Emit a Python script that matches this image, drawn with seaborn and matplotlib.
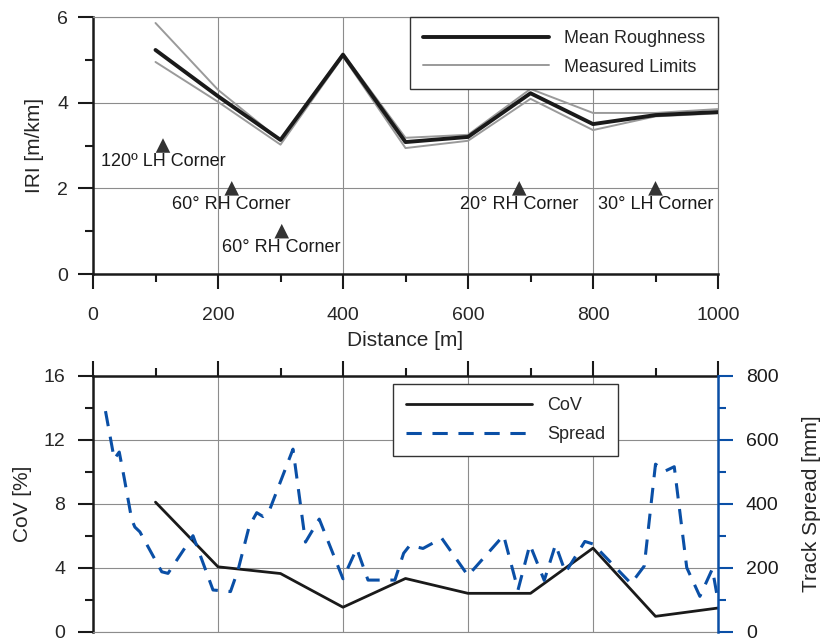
import matplotlib
matplotlib.use("Agg")
import matplotlib.pyplot as plt
from matplotlib.ticker import MultipleLocator
from matplotlib.lines import Line2D
import seaborn as sns
import pandas as pd

# ---- roughness profile (IRI, m/km) along the route ----
distance = [100, 200, 300, 400, 500, 600, 700, 800, 900, 1000]
mean_iri = [5.23, 4.15, 3.13, 5.12, 3.08, 3.20, 4.22, 3.50, 3.71, 3.78]
upper_iri = [5.86, 4.30, 3.12, 5.15, 3.18, 3.25, 4.32, 3.76, 3.76, 3.85]
lower_iri = [4.95, 4.02, 3.02, 5.08, 2.94, 3.11, 4.09, 3.36, 3.68, 3.75]

# ---- corner markers ----
corner_x = [112, 222, 302, 682, 900]
corner_y = [3, 2, 1, 2, 2]
corner_labels = ["120º LH Corner", "60° RH Corner", "60° RH Corner",
                 "20° RH Corner", "30° LH Corner"]

# ---- coefficient of variation (%) ----
cov_pct = [8.1, 4.05, 3.63, 1.52, 3.32, 2.39, 2.39, 5.22, 0.95, 1.47]

# ---- lateral track spread (mm) ----
spread_x = [20, 34, 42, 50, 62, 67, 75, 110, 120, 160, 192, 220, 232, 250,
            262, 272, 282, 320, 340, 362, 400, 422, 440, 483, 497, 507, 528,
            558, 600, 657, 680, 699, 722, 740, 756, 787, 800, 861, 882, 900,
            915, 930, 950, 971, 991, 1000]
spread_mm = [690, 540, 562, 480, 350, 327, 312, 187, 182, 300, 130, 125, 192,
             330, 372, 360, 378, 571, 280, 352, 165, 260, 161, 161, 245, 270,
             260, 292, 175, 301, 130, 272, 160, 272, 185, 282, 274, 150, 205,
             524, 502, 516, 200, 110, 196, 96]

BLUE = "#0a4fa6"
GRID = "#8c8c8c"

sns.set_theme(style="white")
plt.rcParams["font.family"] = ["Liberation Sans", "DejaVu Sans"]
plt.rcParams["axes.unicode_minus"] = False

fig = plt.figure(figsize=(8.25, 6.41), dpi=100)
ax_top = fig.add_axes([93 / 825, 1 - 274 / 641, 625 / 825, 257 / 641])
ax_bot = fig.add_axes([93 / 825, 1 - 631.5 / 641, 625 / 825, 255.5 / 641])

# ================= upper panel =================
iri_df = pd.DataFrame({"Distance": distance, "Mean": mean_iri,
                       "Upper": upper_iri, "Lower": lower_iri})
sns.lineplot(data=iri_df, x="Distance", y="Upper", ax=ax_top, color="#9a9a9a",
             lw=1.4, estimator=None, zorder=3)
sns.lineplot(data=iri_df, x="Distance", y="Lower", ax=ax_top, color="#9a9a9a",
             lw=1.4, estimator=None, zorder=3)
sns.lineplot(data=iri_df, x="Distance", y="Mean", ax=ax_top, color="#1a1a1a",
             lw=2.8, estimator=None, zorder=4)

corner_df = pd.DataFrame({"x": corner_x, "y": corner_y})
sns.scatterplot(data=corner_df, x="x", y="y", ax=ax_top, marker="^", s=110,
                color="#333333", edgecolor="none", zorder=5)
for cx, cy, lab in zip(corner_x, corner_y, corner_labels):
    ax_top.annotate(lab, (cx, cy), xytext=(0, -11.5), textcoords="offset points",
                    ha="center", va="center", fontsize=13, color="#1a1a1a",
                    zorder=6)

ax_top.set_xlim(0, 1000)
ax_top.set_ylim(0, 6)
ax_top.xaxis.set_major_locator(MultipleLocator(200))
ax_top.xaxis.set_minor_locator(MultipleLocator(100))
ax_top.yaxis.set_major_locator(MultipleLocator(2))
ax_top.yaxis.set_minor_locator(MultipleLocator(1))
ax_top.grid(True, which="major", color=GRID, lw=0.8, zorder=0)
ax_top.set_axisbelow(True)
ax_top.set_xlabel("Distance [m]", fontsize=15, labelpad=5)
ax_top.set_ylabel("IRI [m/km]", fontsize=15, labelpad=9)
ax_top.tick_params(axis="both", which="major", direction="out", length=11,
                   width=1.5, color="#1a1a1a", labelsize=14,
                   bottom=True, left=True, top=False, right=False)
ax_top.tick_params(axis="both", which="minor", direction="out", length=5.5,
                   width=1.5, color="#1a1a1a",
                   bottom=True, left=True, top=False, right=False)
ax_top.tick_params(axis="x", which="major", pad=13)
ax_top.tick_params(axis="y", which="major", pad=7)
for side in ("left", "bottom"):
    ax_top.spines[side].set_color("#1a1a1a")
    ax_top.spines[side].set_linewidth(1.8)
for side in ("top", "right"):
    ax_top.spines[side].set_color(GRID)
    ax_top.spines[side].set_linewidth(0.8)

top_handles = [Line2D([], [], color="#1a1a1a", lw=2.8),
               Line2D([], [], color="#9a9a9a", lw=1.4)]
leg = ax_top.legend(top_handles, ["Mean Roughness", "Measured Limits"],
                    loc="upper right", bbox_to_anchor=(1.0, 1.0), fontsize=13,
                    handlelength=7.0, handletextpad=0.8, borderpad=0.72,
                    labelspacing=0.65, fancybox=False, framealpha=1,
                    edgecolor="#333333", borderaxespad=0)
leg.get_frame().set_linewidth(1.0)

# ================= lower panel =================
cov_df = pd.DataFrame({"Distance": distance, "CoV": cov_pct})
sns.lineplot(data=cov_df, x="Distance", y="CoV", ax=ax_bot, color="#1a1a1a",
             lw=2.0, estimator=None, zorder=3)
ax_bot.set_xlim(0, 1000)
ax_bot.set_ylim(0, 16)
ax_bot.xaxis.set_major_locator(MultipleLocator(200))
ax_bot.xaxis.set_minor_locator(MultipleLocator(100))
ax_bot.yaxis.set_major_locator(MultipleLocator(4))
ax_bot.yaxis.set_minor_locator(MultipleLocator(2))
ax_bot.grid(True, which="major", color=GRID, lw=0.8, zorder=0)
ax_bot.set_axisbelow(True)
ax_bot.set_xlabel("")
ax_bot.set_ylabel("CoV [%]", fontsize=15, labelpad=8)
ax_bot.tick_params(axis="both", which="major", direction="out", length=11,
                   width=1.5, color="#1a1a1a", labelsize=14,
                   top=True, left=True, bottom=False, right=False,
                   labeltop=False, labelbottom=False)
ax_bot.tick_params(axis="both", which="minor", direction="out", length=5.5,
                   width=1.5, color="#1a1a1a",
                   top=True, left=True, bottom=False, right=False)
ax_bot.tick_params(axis="y", which="major", pad=9)
for side in ("left", "top"):
    ax_bot.spines[side].set_color("#1a1a1a")
    ax_bot.spines[side].set_linewidth(1.8)
ax_bot.spines["bottom"].set_color(GRID)
ax_bot.spines["bottom"].set_linewidth(0.8)
ax_bot.spines["right"].set_visible(False)

ax_sp = ax_bot.twinx()
spread_df = pd.DataFrame({"Distance": spread_x, "Spread": spread_mm})
sns.lineplot(data=spread_df, x="Distance", y="Spread", ax=ax_sp, color=BLUE,
             lw=2.2, estimator=None, dashes=False, zorder=3)
ax_sp.lines[-1].set_dashes((5, 3.5))
ax_sp.set_ylim(0, 800)
ax_sp.set_xlim(0, 1000)
ax_sp.yaxis.set_major_locator(MultipleLocator(200))
ax_sp.yaxis.set_minor_locator(MultipleLocator(100))
ax_sp.set_ylabel("Track Spread [mm]", fontsize=15, labelpad=17)
ax_sp.grid(False)
ax_sp.tick_params(axis="y", which="major", direction="out", length=11,
                  width=1.5, color=BLUE, labelsize=14, labelcolor="#1a1a1a",
                  pad=9, right=True)
ax_sp.tick_params(axis="y", which="minor", direction="out", length=5.5,
                  width=1.5, color=BLUE, right=True)
for side in ("left", "top", "bottom"):
    ax_sp.spines[side].set_visible(False)
ax_sp.spines["right"].set_color(BLUE)
ax_sp.spines["right"].set_linewidth(1.8)

bot_handles = [Line2D([], [], color="#1a1a1a", lw=2.0),
               Line2D([], [], color=BLUE, lw=2.2, dashes=(5, 3.5))]
leg2 = ax_sp.legend(bot_handles, ["CoV", "Spread"], loc="upper left",
                    bbox_to_anchor=(0.48, 0.968), fontsize=13,
                    handlelength=7.0, handletextpad=0.8, borderpad=0.72,
                    labelspacing=0.65, fancybox=False, framealpha=1,
                    edgecolor="#333333", borderaxespad=0)
leg2.get_frame().set_linewidth(1.0)

fig.savefig("out.png", dpi=100)
